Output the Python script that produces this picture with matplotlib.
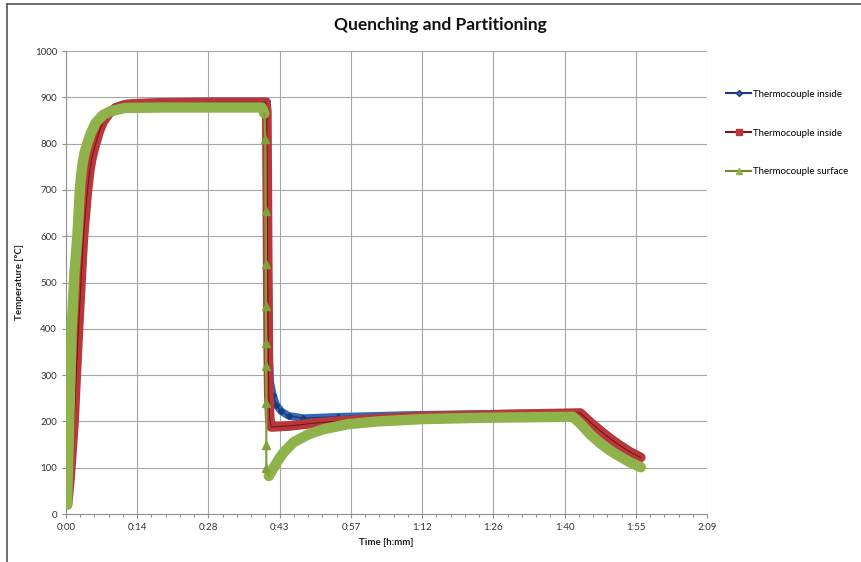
import numpy as np
import matplotlib
matplotlib.use("Agg")
from matplotlib import pyplot as plt
from matplotlib.ticker import MultipleLocator, FixedLocator
from matplotlib.lines import Line2D

plt.rcParams['font.family'] = ['Lato', 'DejaVu Sans']

# time in minutes, temperature in degC
blue_t = [0.3, 0.8, 1.3, 1.6, 2.0, 2.5, 3.0, 3.5, 4.3, 4.8, 5.2, 5.9, 6.7, 7.5, 8.7, 10, 12, 14,
          20, 30, 40.6,
          40.8, 41.0, 41.1, 41.3, 41.8, 42.5, 43.5, 45, 48, 55, 70, 90, 104,
          106, 108, 110, 112, 114, 116.2]
blue_T = [20, 80, 160, 200, 290, 400, 500, 600, 700, 745, 770, 800, 828, 849, 867, 879, 886, 888,
          890, 891, 891,
          600, 430, 330, 285, 258, 236, 222, 212, 207, 210, 214, 217, 219,
          200, 182, 165, 150, 136, 124]

red_t = [0.3, 0.8, 1.3, 1.6, 2.0, 2.5, 3.0, 3.5, 4.3, 4.8, 5.2, 5.9, 6.7, 7.5, 8.7, 10, 12, 14,
         20, 30, 40.4,
         40.6, 40.7, 40.8, 40.9, 41.0, 41.2, 41.5, 45, 50, 57, 70, 85, 104,
         106, 108, 110, 112, 114, 116.2]
red_T = [20, 75, 150, 195, 285, 395, 495, 595, 695, 742, 767, 797, 826, 847, 865, 877, 884, 886,
         888, 889, 889,
         870, 700, 500, 350, 260, 205, 188, 190, 196, 202, 210, 214, 218,
         198, 180, 163, 148, 134, 122]

green_t = [0.2, 0.4, 0.7, 1.15, 1.7, 2.3, 2.8, 3.1, 3.4, 3.8, 4.3, 5.0, 6.0, 7.5, 9, 12, 20, 30,
           39.6, 40.1,
           40.3, 40.35, 40.4, 40.4, 40.45, 40.45, 40.5, 40.5, 40.5,
           41.0, 42, 43, 44, 46, 49, 52, 57, 63, 72, 85, 102.5,
           104, 106, 108, 110, 112, 114, 116.2]
green_T = [20, 100, 220, 400, 520, 600, 700, 735, 760, 782, 800, 822, 845, 862, 870, 877, 878, 878,
           878, 865,
           810, 655, 540, 450, 370, 320, 240, 150, 100,
           82, 100, 118, 133, 155, 172, 183, 194, 200, 205, 208, 210,
           195, 172, 153, 137, 124, 112, 101]
green_q0, green_q1 = 19, 29  # thin segment of the quench (sparse points)

xtick_labels = ["0:00", "0:14", "0:28", "0:43", "0:57", "1:12", "1:26", "1:40", "1:55", "2:09"]
legend_labels = ["Thermocouple inside", "Thermocouple inside", "Thermocouple surface"]

fig = plt.figure(figsize=(8.62, 5.62), dpi=100)
ax = fig.add_axes([66/862, 48/562, 641/862, 463/562])

# blue (inside 1)
ax.plot(blue_t, blue_T, color="#2e6ab8", lw=5.5, solid_capstyle="round", zorder=3)
ax.plot(blue_t, blue_T, color="#1f3a78", lw=1.0, marker="D", ms=3, zorder=3.1)
# red (inside 2)
ax.plot(red_t, red_T, color="#b8373a", lw=7, solid_capstyle="round", zorder=4)
ax.plot(red_t, red_T, color="#7a1518", lw=0.8, zorder=4.1)
# green (surface)
g_t = np.array(green_t)
g_T = np.array(green_T)
ax.plot(g_t[:green_q0 + 1], g_T[:green_q0 + 1], color="#8fb24a", lw=7.5,
        solid_capstyle="round", zorder=5)
ax.plot(g_t[green_q1:], g_T[green_q1:], color="#8fb24a", lw=7.5,
        solid_capstyle="round", zorder=5)
ax.plot(g_t[green_q0:green_q1 + 1], g_T[green_q0:green_q1 + 1], color="#7fa33c",
        lw=1.6, marker="^", ms=6, markevery=list(range(1, green_q1 - green_q0)), zorder=5.1)

ax.set_xlim(0, 129.6)
ax.set_ylim(0, 1000)
ax.xaxis.set_major_locator(FixedLocator([14.4 * i for i in range(10)]))
ax.set_xticklabels(xtick_labels)
ax.xaxis.set_minor_locator(MultipleLocator(2.88))
ax.yaxis.set_major_locator(MultipleLocator(100))
ax.tick_params(axis="both", which="both", direction="out", colors="#909090",
               labelcolor="#333333", labelsize=7, length=3, width=0.8)
ax.tick_params(axis="x", which="minor", length=2.5)
ax.grid(True, which="major", color="#a6a6a6", lw=0.8)
ax.set_axisbelow(True)
for s in ["top", "right"]:
    ax.spines[s].set_visible(False)
for s in ["left", "bottom"]:
    ax.spines[s].set_color("#909090")
    ax.spines[s].set_linewidth(0.8)

ax.set_xlabel("Time [h:mm]", fontsize=7, fontweight="bold", color="#222222", labelpad=4)
ax.set_ylabel("Temperature [ºC]", fontsize=7, fontweight="bold", color="#222222", labelpad=8)
fig.text(440/862, 1 - 25/562, "Quenching and Partitioning", ha="center", va="center",
         fontsize=12.5, fontweight="bold", color="#111111")

handles = [
    Line2D([], [], color="#1f3a78", lw=1.5, marker="D", ms=3, mfc="#2e6ab8", mec="#1f3a78"),
    Line2D([], [], color="#7a1518", lw=1.5, marker="s", ms=5, mfc="#b8373a", mec="#b8373a"),
    Line2D([], [], color="#6b8a2e", lw=1.5, marker="^", ms=5, mfc="#8fb24a", mec="#8fb24a"),
]
fig.legend(handles, legend_labels, loc="upper left", bbox_to_anchor=(722/862, 1 - 86/562),
           frameon=False, fontsize=7, handlelength=2.6, handletextpad=0.2,
           labelspacing=3.05, borderaxespad=0)

# chart frame (top and left edges visible)
fig.add_artist(Line2D([7/862, 7/862], [0, 1 - 4/562], color="#555555", lw=1.2,
                      transform=fig.transFigure))
fig.add_artist(Line2D([7/862, 1], [1 - 4/562, 1 - 4/562], color="#555555", lw=1.2,
                      transform=fig.transFigure))

fig.savefig("out.png", dpi=100)
